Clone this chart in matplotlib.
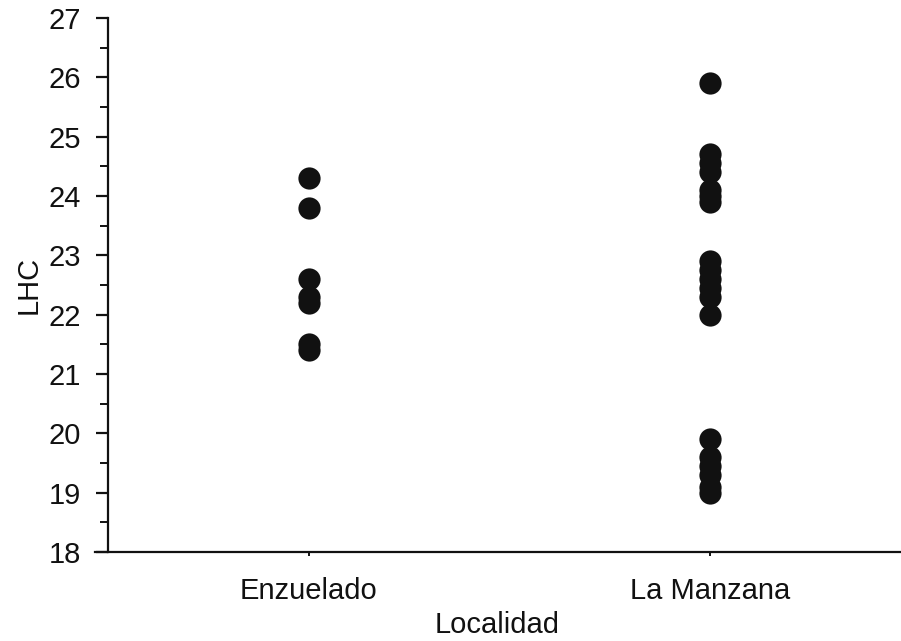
import matplotlib
matplotlib.use("Agg")
import matplotlib.pyplot as plt
from matplotlib.ticker import MultipleLocator

categories = ["Enzuelado", "La Manzana"]
enzuelado = [24.3, 23.8, 22.6, 22.3, 22.2, 21.5, 21.4]
la_manzana = [25.9, 24.7, 24.55, 24.4, 24.1, 24.0, 23.9,
              22.9, 22.75, 22.6, 22.45, 22.3, 22.0,
              19.9, 19.6, 19.45, 19.3, 19.1, 19.0]
y_ticks = [18, 19, 20, 21, 22, 23, 24, 25, 26, 27]

plt.rcParams['font.family'] = ['Liberation Sans', 'DejaVu Sans']

fig = plt.figure(figsize=(9.01, 6.41), dpi=100)
ax = fig.add_axes([95/901, (641-552)/641, (900-95)/901, (552-18)/641])

series = [enzuelado, la_manzana]
for i, vals in enumerate(series):
    ax.plot([i]*len(vals), vals, 'o', color='#111111', markersize=16, markeredgewidth=0)

ax.set_xlim(-0.532, 1.473)
ax.set_ylim(18, 27)
ax.set_xticks(range(len(categories)))
ax.set_xticklabels(categories)
ax.set_yticks(y_ticks)
ax.set_yticklabels([str(t) for t in y_ticks])
ax.yaxis.set_minor_locator(MultipleLocator(0.5))

ax.spines['top'].set_visible(False)
ax.spines['right'].set_visible(False)
ax.spines['left'].set_position(('data', -0.5))
for s in ['left', 'bottom']:
    ax.spines[s].set_linewidth(1.6)
    ax.spines[s].set_color('#111111')

ax.tick_params(axis='y', which='major', length=8.5, width=1.6, direction='out', pad=11,
               colors='#111111', labelsize=21)
ax.tick_params(axis='y', which='minor', length=5.5, width=1.4, direction='out', colors='#111111')
ax.tick_params(axis='x', which='major', length=3, width=1.4, direction='out', pad=15,
               colors='#111111', labelsize=21)

ax.set_xlabel("Localidad", fontsize=21, labelpad=4, color='#111111')
ax.set_ylabel("LHC", fontsize=21, labelpad=4, color='#111111')

fig.savefig("out.png", dpi=100)
